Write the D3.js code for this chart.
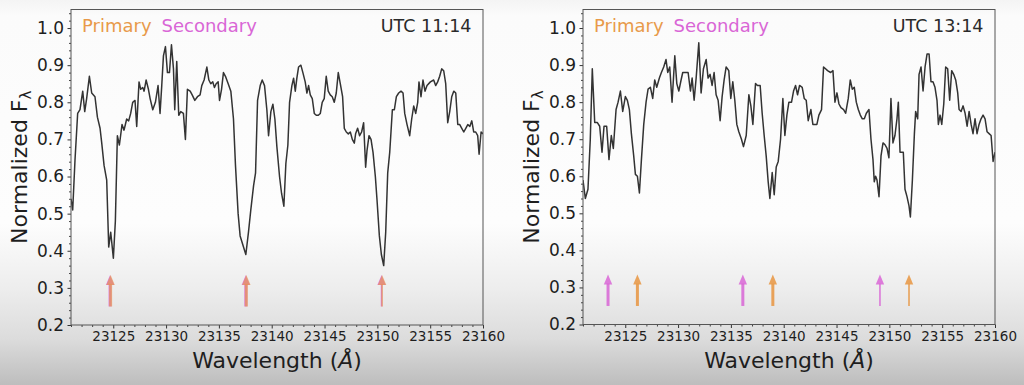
<!DOCTYPE html>
<html>
<head>
<meta charset="utf-8">
<script src="https://cdn.jsdelivr.net/npm/d3@7"></script>
<style>
  html, body { margin: 0; padding: 0; background: #f6f6f6; }
  svg { display: block; font-family: "DejaVu Sans", sans-serif; }
</style>
</head>
<body>
<svg id="chart" width="1024" height="385"></svg>
<script>
// ---------------- DATA ----------------
const panelTitles = ["UTC 11:14", "UTC 13:14"];
const legendLabels = ["Primary", "Secondary"];
const xTicks = [23125, 23130, 23135, 23140, 23145, 23150, 23155, 23160];
const yTicks = [0.2, 0.3, 0.4, 0.5, 0.6, 0.7, 0.8, 0.9, 1.0];
const xDomain = [23121, 23160];
const yDomain = [0.2, 1.05];

const wave1 = [23121.00,23121.16,23121.38,23121.63,23121.85,23122.11,23122.30,23122.48,23122.74,23122.96,23123.27,23123.50,23123.75,23123.91,23124.13,23124.38,23124.57,23124.76,23125.01,23125.20,23125.39,23125.58,23125.83,23126.02,23126.27,23126.46,23126.65,23126.84,23127.06,23127.22,23127.44,23127.60,23127.79,23127.92,23128.11,23128.33,23128.49,23128.74,23128.99,23129.24,23129.43,23129.59,23129.75,23129.94,23130.13,23130.32,23130.51,23130.70,23130.82,23131.01,23131.20,23131.39,23131.64,23131.83,23132.02,23132.28,23132.47,23132.72,23132.97,23133.22,23133.38,23133.60,23133.86,23134.05,23134.23,23134.42,23134.58,23134.74,23134.93,23135.06,23135.25,23135.43,23135.62,23135.88,23136.13,23136.38,23136.57,23136.82,23137.01,23137.33,23137.55,23137.80,23138.02,23138.28,23138.47,23138.66,23138.91,23139.10,23139.32,23139.54,23139.70,23139.92,23140.11,23140.30,23140.49,23140.74,23140.93,23141.15,23141.34,23141.53,23141.69,23141.91,23142.07,23142.23,23142.38,23142.54,23142.76,23142.95,23143.17,23143.33,23143.49,23143.65,23143.84,23144.03,23144.22,23144.41,23144.60,23144.78,23144.97,23145.16,23145.35,23145.54,23145.73,23145.92,23146.11,23146.30,23146.49,23146.71,23146.87,23147.06,23147.25,23147.44,23147.63,23147.82,23147.94,23148.13,23148.32,23148.51,23148.70,23148.89,23149.02,23149.21,23149.40,23149.59,23149.81,23149.96,23150.19,23150.38,23150.60,23150.79,23150.98,23151.17,23151.42,23151.61,23151.80,23152.02,23152.24,23152.43,23152.59,23152.81,23153.06,23153.25,23153.44,23153.63,23153.82,23153.94,23154.13,23154.32,23154.51,23154.70,23155.02,23155.33,23155.52,23155.71,23155.90,23156.09,23156.28,23156.47,23156.66,23156.85,23157.04,23157.23,23157.42,23157.61,23157.80,23157.99,23158.18,23158.37,23158.56,23158.75,23158.94,23159.12,23159.31,23159.50,23159.63,23159.82,23160.00];
const flux1 = [0.54,0.51,0.645,0.77,0.78,0.83,0.775,0.81,0.87,0.825,0.815,0.76,0.73,0.69,0.63,0.59,0.41,0.45,0.38,0.48,0.71,0.685,0.74,0.725,0.755,0.75,0.77,0.80,0.805,0.735,0.855,0.835,0.84,0.83,0.86,0.835,0.81,0.78,0.80,0.845,0.77,0.845,0.925,0.95,0.88,0.88,0.955,0.89,0.78,0.91,0.765,0.775,0.77,0.70,0.835,0.83,0.82,0.805,0.815,0.82,0.845,0.86,0.895,0.86,0.85,0.855,0.84,0.85,0.855,0.805,0.835,0.88,0.87,0.85,0.83,0.755,0.63,0.50,0.44,0.41,0.39,0.45,0.51,0.575,0.61,0.805,0.845,0.86,0.845,0.78,0.71,0.775,0.795,0.755,0.68,0.60,0.555,0.52,0.635,0.685,0.80,0.845,0.865,0.83,0.865,0.895,0.90,0.88,0.855,0.825,0.845,0.82,0.81,0.77,0.765,0.765,0.77,0.80,0.81,0.87,0.83,0.82,0.815,0.80,0.825,0.88,0.85,0.815,0.73,0.72,0.715,0.72,0.70,0.69,0.715,0.73,0.71,0.72,0.745,0.625,0.67,0.71,0.70,0.665,0.60,0.54,0.44,0.39,0.36,0.45,0.61,0.665,0.78,0.78,0.815,0.825,0.83,0.825,0.77,0.74,0.71,0.755,0.79,0.77,0.80,0.855,0.815,0.86,0.83,0.845,0.855,0.86,0.845,0.855,0.87,0.89,0.885,0.85,0.745,0.775,0.815,0.83,0.825,0.74,0.74,0.73,0.72,0.73,0.74,0.735,0.75,0.72,0.72,0.71,0.66,0.72,0.715];

const wave2 = [23121.00,23121.22,23121.47,23121.69,23121.88,23122.11,23122.36,23122.58,23122.80,23122.99,23123.24,23123.46,23123.68,23123.87,23124.13,23124.32,23124.54,23124.76,23125.01,23125.20,23125.39,23125.58,23125.80,23125.96,23126.15,23126.34,23126.53,23126.75,23126.97,23127.16,23127.38,23127.60,23127.79,23127.98,23128.23,23128.42,23128.64,23128.86,23129.02,23129.21,23129.43,23129.69,23129.88,23130.07,23130.25,23130.44,23130.70,23130.95,23131.17,23131.33,23131.52,23131.71,23131.96,23132.18,23132.40,23132.66,23132.84,23133.03,23133.22,23133.41,23133.60,23133.79,23133.98,23134.17,23134.36,23134.55,23134.80,23134.99,23135.18,23135.37,23135.56,23135.75,23136.00,23136.19,23136.45,23136.70,23136.89,23137.08,23137.33,23137.52,23137.77,23137.96,23138.15,23138.34,23138.53,23138.69,23138.91,23139.10,23139.29,23139.48,23139.70,23139.92,23140.11,23140.30,23140.49,23140.74,23140.93,23141.12,23141.31,23141.50,23141.75,23141.94,23142.13,23142.32,23142.57,23142.76,23142.95,23143.14,23143.33,23143.58,23143.77,23143.96,23144.15,23144.44,23144.66,23144.85,23145.04,23145.23,23145.42,23145.67,23145.86,23146.11,23146.30,23146.49,23146.68,23146.87,23147.06,23147.25,23147.44,23147.63,23147.82,23148.07,23148.26,23148.45,23148.57,23148.70,23148.83,23149.02,23149.21,23149.40,23149.59,23149.78,23149.96,23150.15,23150.34,23150.53,23150.72,23150.85,23151.01,23151.17,23151.32,23151.48,23151.67,23151.86,23151.99,23152.18,23152.37,23152.49,23152.68,23152.81,23153.00,23153.19,23153.38,23153.57,23153.76,23153.94,23154.13,23154.32,23154.51,23154.64,23154.80,23154.96,23155.15,23155.33,23155.52,23155.71,23155.90,23156.09,23156.28,23156.47,23156.60,23156.79,23156.98,23157.17,23157.36,23157.55,23157.74,23157.92,23158.11,23158.30,23158.49,23158.68,23158.87,23159.06,23159.25,23159.44,23159.63,23159.82,23160.00];
const flux2 = [0.59,0.54,0.565,0.70,0.89,0.745,0.745,0.735,0.665,0.735,0.735,0.645,0.71,0.675,0.78,0.80,0.83,0.775,0.815,0.805,0.78,0.715,0.655,0.605,0.60,0.555,0.645,0.74,0.80,0.835,0.84,0.81,0.86,0.84,0.865,0.88,0.895,0.915,0.88,0.895,0.80,0.925,0.85,0.83,0.855,0.88,0.88,0.88,0.83,0.865,0.805,0.865,0.96,0.825,0.89,0.915,0.865,0.875,0.845,0.88,0.82,0.805,0.75,0.815,0.86,0.895,0.885,0.81,0.855,0.805,0.74,0.72,0.70,0.68,0.71,0.82,0.79,0.74,0.85,0.845,0.845,0.77,0.71,0.655,0.585,0.54,0.61,0.55,0.625,0.64,0.70,0.81,0.71,0.765,0.80,0.80,0.83,0.845,0.82,0.845,0.84,0.81,0.805,0.75,0.78,0.74,0.74,0.74,0.765,0.78,0.895,0.89,0.885,0.88,0.885,0.80,0.825,0.795,0.785,0.78,0.77,0.81,0.86,0.835,0.84,0.80,0.78,0.765,0.755,0.755,0.77,0.78,0.70,0.645,0.585,0.60,0.59,0.545,0.655,0.69,0.685,0.675,0.65,0.81,0.69,0.71,0.755,0.80,0.665,0.665,0.665,0.565,0.545,0.52,0.49,0.59,0.715,0.775,0.755,0.875,0.895,0.83,0.895,0.93,0.93,0.855,0.855,0.84,0.805,0.74,0.765,0.74,0.795,0.895,0.89,0.805,0.885,0.875,0.86,0.825,0.78,0.775,0.79,0.77,0.735,0.775,0.74,0.715,0.755,0.715,0.74,0.755,0.765,0.755,0.72,0.715,0.71,0.64,0.665];

// line-position markers (arrows): wavelength and relative strength (shaft width)
const primaryLines1 = [23124.75, 23137.6, 23150.45];
const secondaryLines1 = [23124.7, 23137.55, 23150.4];
const primaryLines2 = [23126.15, 23138.97, 23151.86];
const secondaryLines2 = [23123.37, 23136.13, 23149.11];
const lineStrength = [3, 3, 1.6];
const arrowRange = [0.25, 0.335];

// ---------------- DRAW ----------------
const svg = d3.select("#chart");
const defs = svg.append("defs");
const grad = defs.append("linearGradient").attr("id", "bg").attr("x1", 0).attr("x2", 0).attr("y1", 0).attr("y2", 1);
[[0, "#f4f4f4"], [0.04, "#fbfbfb"], [0.58, "#fdfdfd"], [0.75, "#ededed"], [0.88, "#dcdcdc"], [1, "#bdbdbd"]]
  .forEach(([o, c]) => grad.append("stop").attr("offset", o).attr("stop-color", c));
svg.append("rect").attr("width", 1024).attr("height", 385).attr("fill", "url(#bg)");

const colors = { primary: "#e89a4a", secondary: "#d966d6", line: "#333333", text: "#1e1e1e" };

const panels = [
  { left: 71, top: 9.5, w: 412, h: 315.5, wave: wave1, flux: flux1, prim: primaryLines1, sec: secondaryLines1, title: panelTitles[0] },
  { left: 583, top: 9.5, w: 412, h: 315, wave: wave2, flux: flux2, prim: primaryLines2, sec: secondaryLines2, title: panelTitles[1] }
];

panels.forEach((p, pi) => {
  const g = svg.append("g").attr("transform", `translate(${p.left},${p.top})`);
  const x = d3.scaleLinear().domain(xDomain).range([0, p.w]);
  const y = d3.scaleLinear().domain(yDomain).range([p.h, 0]);

  // minor ticks
  const xMinor = d3.range(xDomain[0], xDomain[1] + 0.001, 1).filter(v => !xTicks.includes(v));
  const yMinor = d3.range(0.2, 1.05, 0.02).map(v => +v.toFixed(2)).filter(v => !yTicks.some(t => Math.abs(t - v) < 1e-6));
  g.append("g").attr("transform", `translate(0,${p.h})`)
    .call(d3.axisBottom(x).tickValues(xMinor).tickSize(2).tickFormat(""))
    .call(s => s.select(".domain").remove())
    .selectAll("line").attr("stroke", "#444");
  g.append("g")
    .call(d3.axisLeft(y).tickValues(yMinor).tickSize(2).tickFormat(""))
    .call(s => s.select(".domain").remove())
    .selectAll("line").attr("stroke", "#444");

  // major axes
  const xa = g.append("g").attr("transform", `translate(0,${p.h})`)
    .call(d3.axisBottom(x).tickValues(xTicks).tickSize(3.5).tickPadding(3).tickFormat(d3.format("d")));
  xa.select(".domain").remove();
  xa.selectAll("line").attr("stroke", "#333");
  xa.selectAll("text").attr("font-size", 13.5).attr("fill", colors.text).attr("font-family", "DejaVu Sans");

  const ya = g.append("g")
    .call(d3.axisLeft(y).tickValues(yTicks).tickSize(3.5).tickPadding(3.5).tickFormat(d3.format(".1f")));
  ya.select(".domain").remove();
  ya.selectAll("line").attr("stroke", "#333");
  ya.selectAll("text").attr("font-size", 17).attr("fill", colors.text).attr("font-family", "DejaVu Sans");

  // clip
  const clipId = "clip" + pi;
  defs.append("clipPath").attr("id", clipId).append("rect").attr("width", p.w).attr("height", p.h);

  // spectrum
  const pts = p.wave.map((w, i) => [w, p.flux[i]]);
  g.append("path").datum(pts)
    .attr("clip-path", `url(#${clipId})`)
    .attr("fill", "none").attr("stroke", colors.line).attr("stroke-width", 1.5).attr("stroke-linejoin", "round")
    .attr("d", d3.line().x(d => x(d[0])).y(d => y(d[1])));

  // arrows
  function drawArrows(list, color, opacity) {
    list.forEach((w, i) => {
      const cx = x(w);
      const y0 = y(arrowRange[0]), y1 = y(arrowRange[1]);
      const headL = 10, headW = 4.2;
      g.append("line").attr("x1", cx).attr("x2", cx).attr("y1", y0).attr("y2", y1 + headL - 1)
        .attr("stroke", color).attr("stroke-width", lineStrength[i]).attr("opacity", opacity);
      g.append("path")
        .attr("d", `M${cx},${y1} L${cx - headW},${y1 + headL} L${cx + headW},${y1 + headL} Z`)
        .attr("fill", color).attr("opacity", opacity);
    });
  }
  drawArrows(p.sec, colors.secondary, 0.85);
  drawArrows(p.prim, colors.primary, pi === 0 ? 0.65 : 0.9);

  // frame
  g.append("rect").attr("width", p.w).attr("height", p.h)
    .attr("fill", "none").attr("stroke", "#555").attr("stroke-width", 1);

  // legend texts
  g.append("text").attr("x", 11).attr("y", 22.5).attr("font-size", 18).attr("fill", colors.primary)
    .text(legendLabels[0]);
  g.append("text").attr("x", 90.5).attr("y", 22.5).attr("font-size", 18).attr("fill", colors.secondary)
    .text(legendLabels[1]);
  g.append("text").attr("x", p.w - 11.5).attr("y", 22).attr("text-anchor", "end")
    .attr("font-size", 17.5).attr("fill", "#2a2a2a").text(p.title);

  // axis titles
  const xt = g.append("text").attr("x", p.w / 2).attr("y", 368 - p.top).attr("text-anchor", "middle")
    .attr("font-size", 22).attr("fill", colors.text);
  xt.append("tspan").text("Wavelength (");
  xt.append("tspan").attr("font-style", "italic").text("Å");
  xt.append("tspan").text(")");

  const yt = g.append("text")
    .attr("transform", `translate(-44,${p.h / 2}) rotate(-90)`)
    .attr("text-anchor", "middle").attr("font-size", 22).attr("fill", colors.text);
  yt.append("tspan").text("Normalized F");
  yt.append("tspan").attr("font-size", 15).attr("dy", 4).text("λ");
});
</script>
</body>
</html>
